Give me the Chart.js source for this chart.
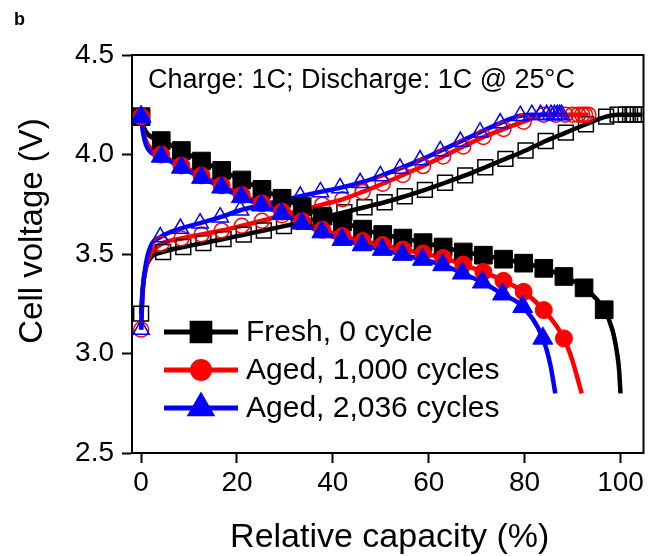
<!DOCTYPE html>
<html>
<head>
<meta charset="utf-8">
<script src="https://cdn.jsdelivr.net/npm/chart.js@4.4.1/dist/chart.umd.min.js"></script>
<style>
  html, body { margin: 0; padding: 0; background: #fff; }
  #wrap { width: 657px; height: 556px; }
</style>
</head>
<body>
<div id="wrap"><canvas id="voltageChart" width="657" height="556"></canvas></div>
<script>
const seriesNames = ["Fresh, 0 cycle", "Aged, 1,000 cycles", "Aged, 2,036 cycles"];
const xTicks = [0, 20, 40, 60, 80, 100];
const yTicks = [2.5, 3.0, 3.5, 4.0, 4.5];

// discharge (filled symbols), [capacity %, voltage V]
const freshDischarge = [
  [0, 4.19], [4.2, 4.07], [8.4, 4.02], [12.6, 3.967], [16.8, 3.92], [21.0, 3.872],
  [25.2, 3.825], [29.4, 3.78], [33.6, 3.738], [37.8, 3.69], [42.0, 3.66], [46.2, 3.625],
  [50.4, 3.598], [54.6, 3.58], [58.8, 3.557], [63.0, 3.535], [67.2, 3.51], [71.4, 3.494],
  [75.6, 3.474], [79.8, 3.454], [84.0, 3.428], [88.2, 3.387], [92.4, 3.33], [96.6, 3.22]
];
const freshDischargeBends = [[0.5, 4.14], [1.5, 4.10], [98.3, 3.12], [99.3, 3.0], [99.7, 2.92], [100, 2.8]];

const aged1000Discharge = [
  [0, 4.19], [4.2, 4.0], [8.4, 3.945], [12.6, 3.895], [16.8, 3.845], [21.0, 3.796],
  [25.2, 3.755], [29.4, 3.713], [33.6, 3.665], [37.8, 3.622], [42.0, 3.59], [46.2, 3.565],
  [50.4, 3.545], [54.6, 3.522], [58.8, 3.503], [63.0, 3.48], [67.2, 3.447], [71.4, 3.41],
  [75.6, 3.365], [79.8, 3.31], [84.0, 3.218], [88.2, 3.076]
];
const aged1000DischargeBends = [[0.4, 4.12], [1, 4.07], [2, 4.03], [89.9, 2.97], [91.1, 2.87], [91.9, 2.8]];

const aged2036Discharge = [
  [0, 4.19], [4.2, 3.99], [8.4, 3.935], [12.6, 3.884], [16.8, 3.835], [20.9, 3.787],
  [25.1, 3.745], [29.3, 3.703], [33.5, 3.654], [37.7, 3.61], [41.9, 3.572], [46.1, 3.545],
  [50.3, 3.522], [54.5, 3.497], [58.7, 3.472], [62.9, 3.445], [67.0, 3.403], [71.2, 3.358],
  [75.4, 3.298], [79.6, 3.235], [83.8, 3.076]
];
const aged2036DischargeBends = [[0.4, 4.11], [1, 4.05], [2, 4.01], [85.4, 2.94], [86.4, 2.8]];

// charge (open symbols), CC then CV at 4.2 V
const freshCharge = [
  [0, 3.2], [4.6, 3.51], [8.8, 3.535], [13.0, 3.555], [17.2, 3.575], [21.4, 3.597],
  [25.6, 3.618], [29.8, 3.64], [34.0, 3.662], [38.2, 3.685], [42.4, 3.71], [46.6, 3.735],
  [50.8, 3.76], [55.0, 3.79], [59.2, 3.822], [63.4, 3.858], [67.6, 3.895], [71.8, 3.936],
  [76.0, 3.978], [80.2, 4.02], [84.4, 4.068], [88.6, 4.11], [92.8, 4.152], [97.0, 4.19],
  [99.4, 4.2], [101.1, 4.2], [102.0, 4.2], [102.8, 4.2], [103.6, 4.2], [104.6, 4.2]
];
const freshChargeBends = [[0.3, 3.32], [1, 3.43], [2, 3.48]];

const aged1000Charge = [
  [0, 3.12], [4.2, 3.55], [8.4, 3.578], [12.6, 3.598], [16.8, 3.618], [21.0, 3.642],
  [25.2, 3.667], [29.4, 3.695], [33.6, 3.72], [37.8, 3.748], [42.0, 3.775], [46.2, 3.812],
  [50.4, 3.853], [54.6, 3.897], [58.8, 3.942], [63.0, 3.99], [67.2, 4.04], [71.4, 4.088],
  [75.6, 4.128], [79.8, 4.165], [84.0, 4.2], [86.5, 4.2], [88.5, 4.2], [90.0, 4.2],
  [91.2, 4.2], [92.0, 4.2], [92.6, 4.2], [93.3, 4.2]
];
const aged1000ChargeBends = [[0.3, 3.3], [1, 3.43], [2, 3.5]];

const aged2036Charge = [
  [0, 3.12], [4.0, 3.585], [8.2, 3.628], [12.3, 3.655], [16.5, 3.685], [20.7, 3.72],
  [24.9, 3.745], [29.0, 3.767], [33.2, 3.79], [37.4, 3.812], [41.5, 3.832], [45.7, 3.858],
  [49.9, 3.892], [54.0, 3.93], [58.2, 3.972], [62.4, 4.018], [66.6, 4.065], [70.7, 4.112],
  [74.9, 4.158], [79.1, 4.195], [81.5, 4.2], [83.3, 4.2], [84.6, 4.2], [85.5, 4.2],
  [86.2, 4.2], [86.8, 4.2], [87.3, 4.2], [87.7, 4.2]
];
const aged2036ChargeBends = [[0.3, 3.3], [1, 3.45], [2, 3.54]];

const discharges = [freshDischarge, aged1000Discharge, aged2036Discharge];
const dischargeBends = [freshDischargeBends, aged1000DischargeBends, aged2036DischargeBends];
const charges = [freshCharge, aged1000Charge, aged2036Charge];
const chargeBends = [freshChargeBends, aged1000ChargeBends, aged2036ChargeBends];

const colors = ["#000000", "#ff0000", "#0000ff"];
const shapes = ["rect", "circle", "triangle"];
const filledRadius = [12.5, 8.5, 11.5];
const openRadius = [10.5, 7.5, 9.5];

const FONT = "'Liberation Sans', Arial, Helvetica, sans-serif";

function pts(pairs) {
  return pairs.map(p => ({ x: p[0], y: p[1] }));
}

function curve(marks, bends) {
  return pts(marks.concat(bends).sort((a, b) => a[0] - b[0]));
}

const datasets = [];

// markers first: lower order is painted on top
[2, 1, 0].forEach((i, k) => {
  datasets.push({
    label: seriesNames[i],
    data: pts(discharges[i]),
    showLine: false,
    pointStyle: shapes[i],
    pointRadius: filledRadius[i],
    pointBackgroundColor: colors[i],
    pointBorderColor: colors[i],
    pointBorderWidth: 1,
    order: k
  });
});

[2, 1, 0].forEach((i, k) => {
  datasets.push({
    label: seriesNames[i] + " charge",
    data: pts(charges[i]),
    showLine: false,
    pointStyle: shapes[i],
    pointRadius: openRadius[i],
    pointBackgroundColor: "rgba(0,0,0,0)",
    pointBorderColor: colors[i],
    pointBorderWidth: 1.5,
    order: 3 + k
  });
});

[2, 1, 0].forEach((i, k) => {
  datasets.push({
    label: seriesNames[i] + " line",
    data: curve(discharges[i], dischargeBends[i]),
    showLine: true,
    borderColor: colors[i],
    borderWidth: 4.5,
    pointRadius: 0,
    cubicInterpolationMode: "monotone",
    order: 6 + k
  });
  datasets.push({
    label: seriesNames[i] + " charge line",
    data: curve(charges[i], chargeBends[i]),
    showLine: true,
    borderColor: colors[i],
    borderWidth: 4.5,
    pointRadius: 0,
    cubicInterpolationMode: "monotone",
    order: 9 + k
  });
});

const decorations = {
  id: "decorations",
  afterDraw(chart) {
    const ctx = chart.ctx;
    const area = chart.chartArea;
    ctx.save();

    // box around the plot
    ctx.strokeStyle = "#000";
    ctx.lineWidth = 2;
    ctx.strokeRect(area.left, area.top, area.right - area.left, area.bottom - area.top);

    ctx.fillStyle = "#000";
    ctx.font = "bold 18px " + FONT;
    ctx.textAlign = "left";
    ctx.textBaseline = "alphabetic";
    ctx.fillText("b", 14, 25);

    ctx.font = "27px " + FONT;
    ctx.fillText("Charge: 1C; Discharge: 1C @ 25\u00b0C", area.left + 16, area.top + 33);

    // axis titles
    ctx.textAlign = "center";
    ctx.font = "34px " + FONT;
    ctx.fillText("Relative capacity (%)", (area.left + area.right) / 2 + 2, 547);
    ctx.save();
    ctx.font = "33px " + FONT;
    ctx.translate(42, 231);
    ctx.rotate(-Math.PI / 2);
    ctx.fillText("Cell voltage (V)", 0, 0);
    ctx.restore();

    // legend: line segment with marker in the middle
    ctx.textAlign = "left";
    ctx.textBaseline = "middle";
    ctx.font = "30px " + FONT;
    seriesNames.forEach((name, i) => {
      const y = area.bottom - 121 + i * 38;
      const x0 = area.left + 32;
      const x1 = area.left + 106;
      ctx.strokeStyle = colors[i];
      ctx.lineWidth = 5;
      ctx.beginPath();
      ctx.moveTo(x0, y);
      ctx.lineTo(x1, y);
      ctx.stroke();
      ctx.fillStyle = colors[i];
      Chart.helpers.drawPoint(ctx, {
        pointStyle: shapes[i],
        radius: filledRadius[i],
        borderWidth: 1
      }, (x0 + x1) / 2, y);
      ctx.fillStyle = "#000";
      ctx.fillText(name, x1 + 8, y + 1);
    });

    ctx.restore();
  }
};

new Chart(document.getElementById("voltageChart"), {
  type: "scatter",
  data: { datasets: datasets },
  options: {
    responsive: false,
    animation: false,
    events: [],
    layout: { padding: { top: 55, right: 4, left: 0, bottom: 0 } },
    plugins: {
      legend: { display: false },
      tooltip: { enabled: false }
    },
    scales: {
      x: {
        type: "linear",
        min: -1.9,
        max: 104.8,
        afterFit(scale) { scale.height = 103; },
        afterBuildTicks(scale) { scale.ticks = xTicks.map(v => ({ value: v })); },
        grid: {
          drawOnChartArea: false,
          drawTicks: true,
          tickLength: 10,
          tickWidth: 2,
          tickColor: "#000"
        },
        border: { display: true, color: "#000", width: 2 },
        ticks: {
          color: "#000",
          padding: 3,
          maxRotation: 0,
          font: { family: FONT, size: 28 }
        }
      },
      y: {
        type: "linear",
        min: 2.5,
        max: 4.5,
        afterFit(scale) { scale.width = 132; },
        afterBuildTicks(scale) { scale.ticks = yTicks.map(v => ({ value: v })); },
        grid: {
          drawOnChartArea: false,
          drawTicks: true,
          tickLength: 10,
          tickWidth: 2,
          tickColor: "#000"
        },
        border: { display: true, color: "#000", width: 2 },
        ticks: {
          color: "#000",
          padding: 8,
          font: { family: FONT, size: 28 },
          callback: v => v.toFixed(1)
        }
      }
    }
  },
  plugins: [decorations]
});
</script>
</body>
</html>
